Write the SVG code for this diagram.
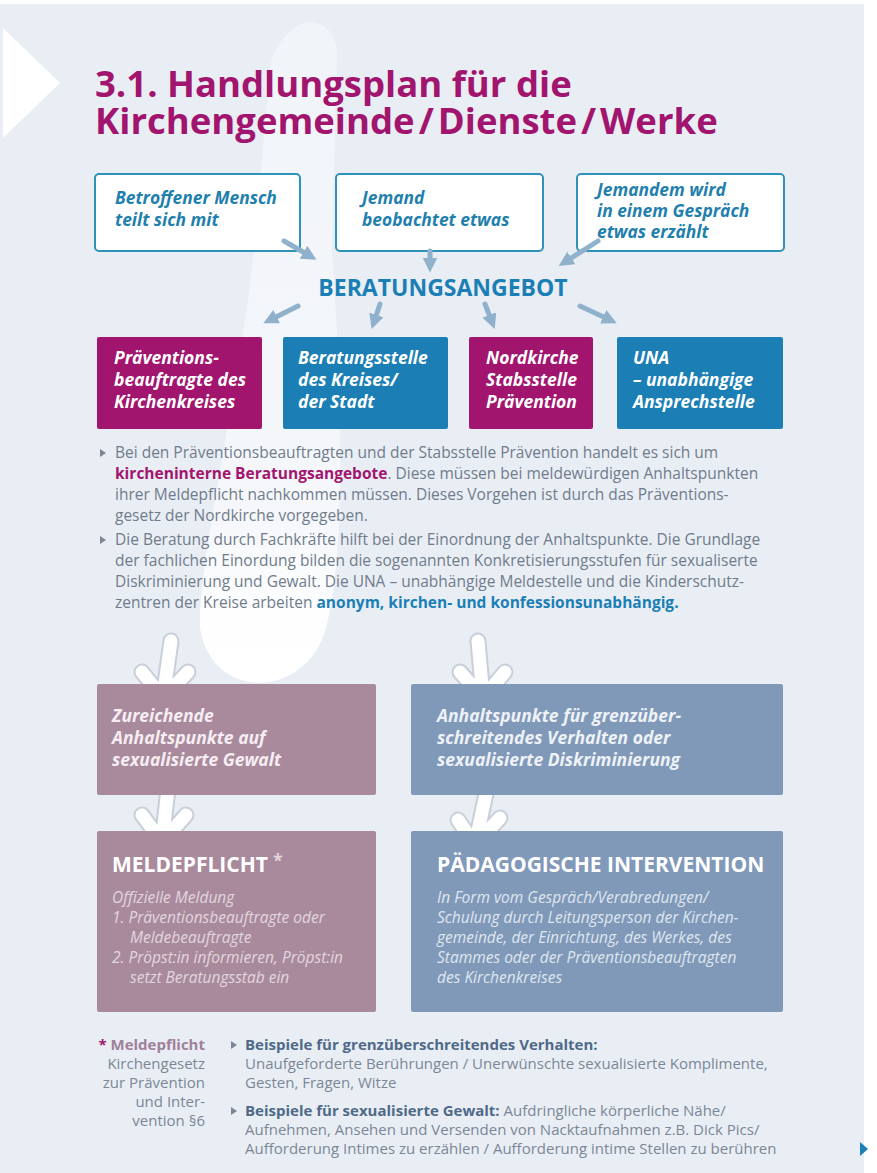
<svg xmlns="http://www.w3.org/2000/svg" width="877" height="1173" viewBox="0 0 877 1173">
<defs>
<marker id="ah" viewBox="0 0 10 10" refX="5" refY="5" markerWidth="3" markerHeight="3" orient="auto"><path d="M0,0 L10,5 L0,10 z" fill="#8fb1cb"/></marker>
<linearGradient id="sw" x1="0" y1="0" x2="0" y2="1">
<stop offset="0" stop-color="#fff" stop-opacity="0.35"/>
<stop offset="0.75" stop-color="#fff" stop-opacity="0.55"/>
<stop offset="0.9" stop-color="#fff" stop-opacity="0.95"/>
<stop offset="1" stop-color="#fff" stop-opacity="1"/>
</linearGradient>
<style>
text{font-family:"Open Sans","DejaVu Sans",sans-serif}
.title{font-size:36.5px;font-weight:700;fill:#a2156f}
.qbox{fill:#fff;stroke:#2f93b8;stroke-width:2}
.qt{font-size:17.4px;font-weight:700;font-style:italic;fill:#1f80ad}
.conn{stroke:#8fb1cb;stroke-width:5;fill:none;stroke-linecap:round;marker-end:url(#ah)}
.mag{fill:#a2156f}
.blu{fill:#1b7fb5}
.wt{font-size:17.5px;font-weight:700;font-style:italic;fill:#fff}
.body{font-size:15.5px;fill:#707c8b}
.bmag{font-weight:700;fill:#a2156f}
.bblu{font-weight:700;fill:#1b7fb5}
.mauve{fill:#a98a9c}
.slate{fill:#8099b9}
.lt{font-size:17.5px;font-weight:700;font-style:italic;fill:#f6eef3}
.hd{font-size:21px;font-weight:700;fill:#fff}
.it{font-size:15.5px;font-style:italic;fill:#e2d6de}
.it2{font-size:15.5px;font-style:italic;fill:#dfe6ef}
.warr-o{stroke:#c9cfd8;stroke-width:17;fill:none;stroke-linecap:round;stroke-linejoin:round}
.warr{stroke:#fff;stroke-width:13;fill:none;stroke-linecap:round;stroke-linejoin:round}
.ft{font-size:15px;fill:#7b8795}
.fb{font-weight:700;fill:#4f6a88}
.tri{fill:#7b8795}
</style>
</defs>
<rect x="0" y="0" width="877" height="1173" fill="#fff"/>
<rect x="0" y="4" width="864" height="1169" fill="#e9eef5"/>
<polygon points="3,28 60,83 3,138" fill="#fff"/>
<path d="M292,30 C310,14 338,24 337,56 L332,250 C344,420 344,560 326,628 C306,700 212,702 200,628 C198,560 238,400 254,250 L270,68 C272,52 282,38 292,30 Z" fill="url(#sw)"/>

<g id="title">
<text class="title" x="95" y="97">3.1. Handlungsplan für die</text>
<text class="title" x="95" y="134">Kirchengemeinde<tspan dx="4">/</tspan><tspan dx="4">Dienste</tspan><tspan dx="4">/</tspan><tspan dx="4">Werke</tspan></text>
</g>

<g id="q1"><rect class="qbox" x="95" y="174" width="205" height="77" rx="4"/>
<text class="qt" x="115" y="204">Betroffener Mensch</text><text class="qt" x="115" y="226">teilt sich mit</text></g>
<g id="q2"><rect class="qbox" x="336" y="174" width="207" height="77" rx="4"/>
<text class="qt" x="362" y="204">Jemand</text><text class="qt" x="362" y="226">beobachtet etwas</text></g>
<g id="q3"><rect class="qbox" x="577" y="174" width="207" height="77" rx="4"/>
<text class="qt" x="597" y="196">Jemandem wird</text><text class="qt" x="597" y="217">in einem Gespräch</text><text class="qt" x="597" y="238">etwas erzählt</text></g>

<g id="beratung"><text x="443" y="296" text-anchor="middle" style="font-size:23px;font-weight:700;fill:#1b7fb5">BERATUNGSANGEBOT</text></g>

<g id="connectors">
<line class="conn" x1="284" y1="241" x2="310" y2="256"/>
<line class="conn" x1="430" y1="251" x2="430" y2="265"/>
<line class="conn" x1="598" y1="241" x2="565" y2="262"/>
<line class="conn" x1="298" y1="306" x2="270" y2="320"/>
<line class="conn" x1="380" y1="304" x2="374" y2="322"/>
<line class="conn" x1="485" y1="304" x2="492" y2="322"/>
<line class="conn" x1="580" y1="306" x2="610" y2="320"/>
<g id="warrows">
<path class="warr-o" d="M171,641 L163,698 M142,672 L163,698 L188,672"/>
<path class="warr" d="M171,641 L163,698 M142,672 L163,698 L188,672"/>
<path class="warr-o" d="M478,641 L483,698 M460,672 L483,698 L505,672"/>
<path class="warr" d="M478,641 L483,698 M460,672 L483,698 L505,672"/>
<path class="warr-o" d="M168,789 L162,842 M142,815 L162,842 L186,815"/>
<path class="warr" d="M168,789 L162,842 M142,815 L162,842 L186,815"/>
<path class="warr-o" d="M487,789 L475,845 M458,820 L475,845 L500,818"/>
<path class="warr" d="M487,789 L475,845 M458,820 L475,845 L500,818"/>
</g>
</g>

<g id="n1"><rect class="mag" x="97" y="337" width="165" height="92" rx="2"/>
<text class="wt" x="114" y="364">Präventions-</text><text class="wt" x="114" y="386">beauftragte des</text><text class="wt" x="114" y="408">Kirchenkreises</text></g>
<g id="n2"><rect class="blu" x="283" y="337" width="165" height="92" rx="2"/>
<text class="wt" x="298" y="364">Beratungsstelle</text><text class="wt" x="298" y="386">des Kreises/</text><text class="wt" x="298" y="408">der Stadt</text></g>
<g id="n3"><rect class="mag" x="469" y="337" width="124" height="92" rx="2"/>
<text class="wt" x="486" y="364">Nordkirche</text><text class="wt" x="486" y="386">Stabsstelle</text><text class="wt" x="486" y="408">Prävention</text></g>
<g id="n4"><rect class="blu" x="617" y="337" width="166" height="92" rx="2"/>
<text class="wt" x="633" y="364">UNA</text><text class="wt" x="633" y="386">– unabhängige</text><text class="wt" x="633" y="408">Ansprechstelle</text></g>

<g id="para">
<polygon class="tri" points="100,449 106,453 100,457"/>
<text class="body" x="115" y="458">Bei den Präventionsbeauftragten und der Stabsstelle Prävention handelt es sich um</text>
<text class="body" x="115" y="479"><tspan class="bmag">kircheninterne Beratungsangebote</tspan>. Diese müssen bei meldewürdigen Anhaltspunkten</text>
<text class="body" x="115" y="500">ihrer Meldepflicht nachkommen müssen. Dieses Vorgehen ist durch das Präventions-</text>
<text class="body" x="115" y="521">gesetz der Nordkirche vorgegeben.</text>
<polygon class="tri" points="100,536 106,540 100,544"/>
<text class="body" x="115" y="545">Die Beratung durch Fachkräfte hilft bei der Einordnung der Anhaltspunkte. Die Grundlage</text>
<text class="body" x="115" y="566">der fachlichen Einordung bilden die sogenannten Konkretisierungsstufen für sexualiserte</text>
<text class="body" x="115" y="587">Diskriminierung und Gewalt. Die UNA – unabhängige Meldestelle und die Kinderschutz-</text>
<text class="body" x="115" y="608">zentren der Kreise arbeiten <tspan class="bblu">anonym, kirchen- und konfessionsunabhängig.</tspan></text>
</g>

<g id="l1"><rect class="mauve" x="97" y="684" width="279" height="111" rx="2"/>
<text class="lt" x="112" y="722">Zureichende</text><text class="lt" x="112" y="744">Anhaltspunkte auf</text><text class="lt" x="112" y="766">sexualisierte Gewalt</text></g>
<g id="r1"><rect class="slate" x="411" y="684" width="372" height="111" rx="2"/>
<text class="lt" x="437" y="722" style="fill:#eef2f7">Anhaltspunkte für grenzüber-</text><text class="lt" x="437" y="744" style="fill:#eef2f7">schreitendes Verhalten oder</text><text class="lt" x="437" y="766" style="fill:#eef2f7">sexualisierte Diskriminierung</text></g>

<g id="l2"><rect class="mauve" x="97" y="831" width="279" height="181" rx="2"/>
<text class="hd" x="112" y="872">MELDEPFLICHT <tspan style="font-size:17px;fill:#e2d6de" dy="-5">*</tspan></text>
<text class="it" x="112" y="903">Offizielle Meldung</text>
<text class="it" x="112" y="923">1. Präventionsbeauftragte oder</text>
<text class="it" x="130" y="943">Meldebeauftragte</text>
<text class="it" x="112" y="963">2. Pröpst:in informieren, Pröpst:in</text>
<text class="it" x="130" y="983">setzt Beratungsstab ein</text></g>
<g id="r2"><rect class="slate" x="411" y="831" width="372" height="181" rx="2"/>
<text class="hd" x="437" y="872">PÄDAGOGISCHE INTERVENTION</text>
<text class="it2" x="437" y="903">In Form vom Gespräch/Verabredungen/</text>
<text class="it2" x="437" y="923">Schulung durch Leitungsperson der Kirchen-</text>
<text class="it2" x="437" y="943">gemeinde, der Einrichtung, des Werkes, des</text>
<text class="it2" x="437" y="963">Stammes oder der Präventionsbeauftragten</text>
<text class="it2" x="437" y="983">des Kirchenkreises</text></g>

<g id="footnote">
<text class="ft" x="205" y="1050" text-anchor="end"><tspan style="fill:#a2156f;font-weight:700">*</tspan><tspan style="fill:#a0809a;font-weight:700"> Meldepflicht</tspan></text>
<text class="ft" x="205" y="1069" text-anchor="end">Kirchengesetz</text>
<text class="ft" x="205" y="1088" text-anchor="end">zur Prävention</text>
<text class="ft" x="205" y="1107" text-anchor="end">und Inter-</text>
<text class="ft" x="205" y="1126" text-anchor="end">vention §6</text>
</g>
<g id="examples">
<polygon class="tri" points="231,1041 237,1045 231,1049"/>
<text class="ft" x="245" y="1050"><tspan class="fb">Beispiele für grenzüberschreitendes Verhalten:</tspan></text>
<text class="ft" x="245" y="1069">Unaufgeforderte Berührungen / Unerwünschte sexualisierte Komplimente,</text>
<text class="ft" x="245" y="1088">Gesten, Fragen, Witze</text>
<polygon class="tri" points="231,1107 237,1111 231,1115"/>
<text class="ft" x="245" y="1116"><tspan class="fb">Beispiele für sexualisierte Gewalt:</tspan> Aufdringliche körperliche Nähe/</text>
<text class="ft" x="245" y="1135">Aufnehmen, Ansehen und Versenden von Nacktaufnahmen z.B. Dick Pics/</text>
<text class="ft" x="245" y="1154">Aufforderung Intimes zu erzählen / Aufforderung intime Stellen zu berühren</text>
</g>
<polygon points="860,1142 868,1149 860,1156" fill="#1b7fb5"/>
</svg>
